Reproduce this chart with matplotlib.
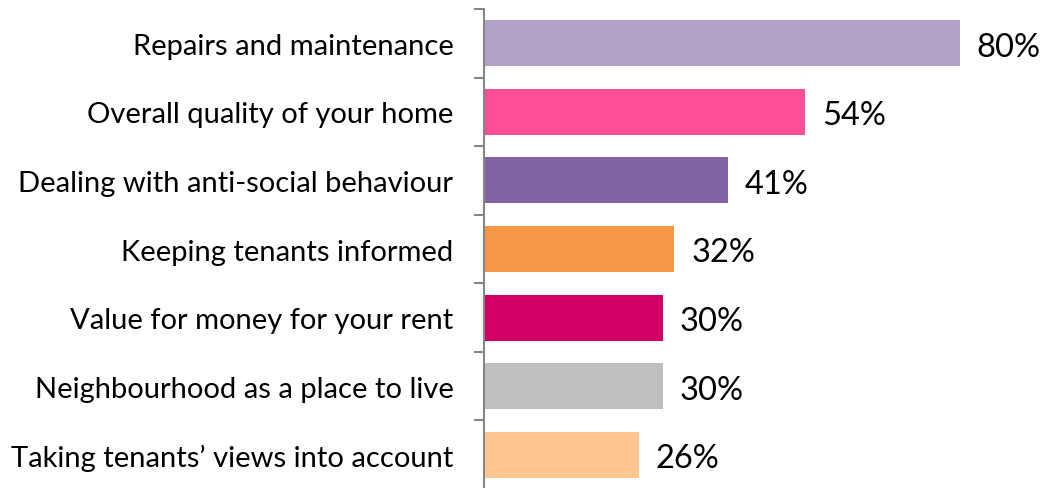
import numpy as np
import matplotlib.pyplot as plt

categories = ["Repairs and maintenance", "Overall quality of your home",
              "Dealing with anti-social behaviour", "Keeping tenants informed",
              "Value for money for your rent", "Neighbourhood as a place to live",
              "Taking tenants\u2019 views into account"]
values = [80, 54, 41, 32, 30, 30, 26]
colors = ["#B3A2C7", "#FF4F96", "#8064A2", "#F79646", "#D20064", "#BFBFBF", "#FFC78F"]

plt.rcParams['font.family'] = ['Lato', 'DejaVu Sans']

fig = plt.figure(figsize=(10.43, 4.89), dpi=100)
ax = fig.add_axes([484/1043, -1/489, 535.5/1043, 480/489])

y = np.arange(len(categories))
ax.barh(y, values, height=0.67, color=colors)
for yi, v in zip(y, values):
    ax.text(v + 2.8, yi + 0.05, f"{v}%", va='center', ha='left', fontsize=23.5, color='black')

ax.set_xlim(0, 90)
ax.set_ylim(len(categories) - 0.5, -0.5)
ax.set_yticks(y)
ax.set_yticklabels(categories, fontsize=21)
ax.set_yticks(np.arange(len(categories) + 1) - 0.5, minor=True)
ax.tick_params(axis='y', which='major', length=0, pad=22)
ax.tick_params(axis='y', which='minor', length=7.5, width=1.5, color='#868686')
ax.set_xticks([])
for s in ['top', 'right', 'bottom']:
    ax.spines[s].set_visible(False)
ax.spines['left'].set_color('#868686')
ax.spines['left'].set_linewidth(1.5)

fig.savefig("out.png", dpi=100)
